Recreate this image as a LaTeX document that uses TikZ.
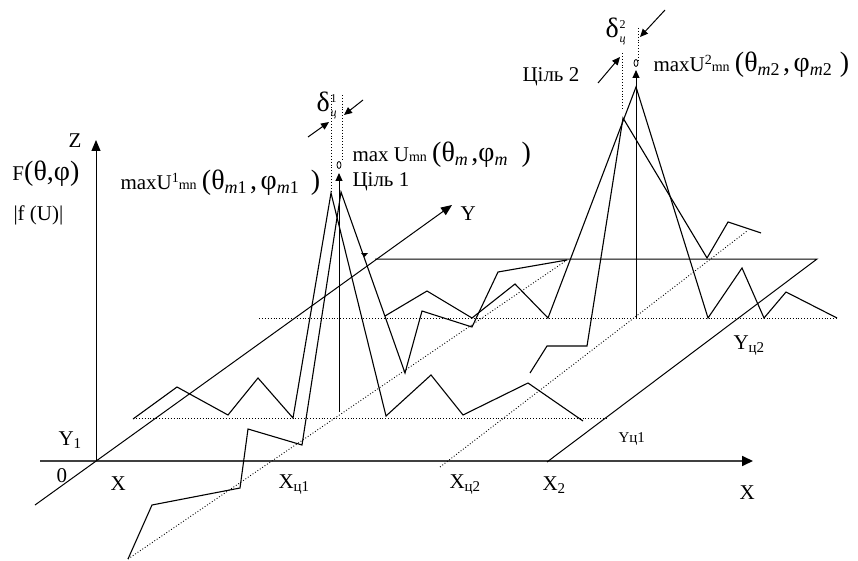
\documentclass[tikz,border=0pt]{standalone}
\usepackage{fontspec}
\setmainfont{Liberation Serif}
\usetikzlibrary{arrows.meta}
\newcommand\up[1]{\raisebox{7pt}{\fontsize{14}{14}\selectfont #1}}
\newcommand\sm[1]{{\fontsize{14}{14}\selectfont #1}}
\newcommand\gr[1]{{\fontsize{28}{28}\selectfont #1}}
\newcommand\lo[1]{\raisebox{-4pt}{\fontsize{18}{18}\selectfont #1}}
\newcommand\dn[1]{\raisebox{-3pt}{\fontsize{15}{15}\selectfont #1}}
\newcommand\stk[2]{{\fontsize{12}{12}\selectfont\rlap{\raisebox{9pt}{#1}}\raisebox{-5pt}{#2}}}

\begin{document}
\begin{tikzpicture}[x=1pt,y=-1pt,>={Triangle[length=11pt,width=9pt]},
  font=\fontsize{21}{24}\selectfont, line width=1pt,
  axis/.style={->},
  guide/.style={dotted,line width=0.9pt},
  trace/.style={line width=1.1pt},
  lbl/.style={inner sep=0pt,anchor=base west},
  tip/.style={-{Triangle[length=8pt,width=7pt]}}]
\useasboundingbox (0,0) rectangle (858,561);

% axes
\coordinate (O) at (96,461);
\coordinate (Xa) at (40,461);
\coordinate (Xb) at (753,461);
\coordinate (Zb) at (96,140);
\coordinate (Ya) at (35,505);
\coordinate (Yb) at (452,205);
\draw[-{Triangle[length=11pt,width=10pt,color=black]},line width=1.7pt,black!75] (Xa) -- (Xb);
\draw[axis] (O) -- (Zb);
\draw[axis] (Ya) -- (Yb);

% back plane
\coordinate (P1) at (375,259);
\coordinate (P2) at (817,259);
\coordinate (X2) at (547,462);
\draw (P1) -- (P2) -- (X2);
\fill (361,253) -- (368,253) -- (364.5,257) -- cycle;

% dotted guides
\draw[guide] (133,418) -- (608,418);
\draw[guide] (259,318) -- (837,318);
\draw[guide] (128,559) -- (567,260);
\draw[guide] (440,467) -- (747,231);
\draw[guide] (331,95) -- (331,193);
\draw[guide] (342,95) -- (342,160);
\draw[guide] (622,53) -- (622,110);
\draw[guide] (638,28) -- (638,60);

% signal traces
\draw[trace] (133,419) -- (177,387) -- (228,415) -- (258,378) -- (293,418) -- (331,193)
  -- (386,416) -- (431,375) -- (463,415) -- (528,383) -- (583,421);
\draw[trace] (128,559) -- (152,505) -- (240,488) -- (248,429) -- (302,445) -- (341,192)
  -- (405,373) -- (422,311) -- (472,327) -- (498,272) -- (567,260);
\draw[trace] (385,316) -- (427,291) -- (472,318) -- (515,284) -- (548,318) -- (636,87)
  -- (708,318) -- (742,268) -- (764,318) -- (786,292) -- (837,318);
\draw[trace] (530,373) -- (547,346) -- (587,346) -- (623,118) -- (707,258) -- (728,222)
  -- (761,233);

% target axes
\draw[tip] (339,412) -- (339,173);
\draw[line width=0.8pt] (339,165) ellipse [x radius=2pt,y radius=3.5pt];
\draw[tip] (636,318) -- (636,70);
\draw[line width=0.8pt] (636,63) ellipse [x radius=2pt,y radius=3.5pt];

% widths of the targets
\coordinate (d1a) at (308,137); \coordinate (d1b) at (329,122);
\coordinate (d1c) at (363,100); \coordinate (d1d) at (344,115);
\coordinate (d2a) at (598,83);  \coordinate (d2b) at (620,57);
\coordinate (d2c) at (665,10);  \coordinate (d2d) at (640,37);
\draw[tip] (d1a) -- (d1b);
\draw[tip] (d1c) -- (d1d);
\draw[tip] (d2a) -- (d2b);
\draw[tip] (d2c) -- (d2d);

% labels
\node[lbl] (zlab) at (68,148) {Z};
\node[lbl] (Flab) at (12,181) {F\gr{(θ,φ)}};
\node[lbl] (flab) at (13,221) {|f (U)|};
\node[lbl] (ylab) at (460,220) {Y};
\node[lbl] (y1lab) at (58,445) {Y\dn{1}};
\node[lbl] (olab) at (56,482) {0};
\node[lbl] (xlab) at (110,490) {X};
\node[lbl] (xc1lab) at (278,488) {X\dn{ц1}};
\node[lbl] (xc2lab) at (449,488) {X\dn{ц2}};
\node[lbl] (x2lab) at (542,490) {X\dn{2}};
\node[lbl] (xend) at (739,499) {X};
\node[lbl,font=\fontsize{15}{15}\selectfont] (yc1lab) at (618,442) {Yц1};
\node[lbl] (yc2lab) at (733,349) {Y\dn{ц2}};
\node[lbl] (m1lab) at (120,190) {maxU\up{1}\sm{mn} \gr{(θ}\lo{\textit{m}1}\,\gr{,}\,\gr{φ}\lo{\textit{m}1}\hspace{12pt}\gr{)}};
\node[lbl] (mlab) at (352,162) {max U\sm{mn} \gr{(θ}\lo{\textit{m}}\,\gr{,}\gr{φ}\lo{\textit{m}}\hspace{14pt}\gr{)}};
\node[lbl] (c1lab) at (352,187) {Ціль 1};
\node[lbl] (c2lab) at (522,82) {Ціль 2};
\node[lbl] (m2lab) at (653,72) {maxU\up{2}\sm{mn} \gr{(θ}\lo{\textit{m}2}\,\gr{,}\,\gr{φ}\lo{\textit{m}2}\hspace{8pt}\gr{)}};
\node[lbl] (d1lab) at (316,112) {\gr{δ}\kern1pt\stk{1}{\textit{ц}}};
\node[lbl] (d2lab) at (605,38) {\gr{δ}\kern1pt\stk{2}{\textit{ц}}};
\end{tikzpicture}
\end{document}
